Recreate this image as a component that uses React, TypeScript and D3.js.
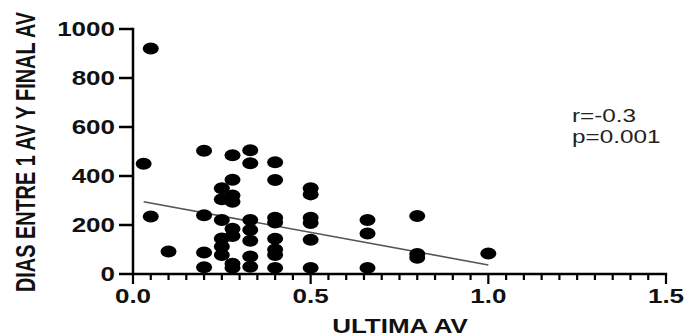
import * as d3 from "d3";
import { useRef, useEffect } from "react";

// values
const ultimaAv = [
  0.03,
  0.05, 0.05,
  0.1,
  0.2, 0.2, 0.2, 0.2,
  0.25, 0.25, 0.25, 0.25, 0.25, 0.25,
  0.28, 0.28, 0.28, 0.28, 0.28, 0.28, 0.28, 0.28,
  0.33, 0.33, 0.33, 0.33, 0.33, 0.33, 0.33,
  0.4, 0.4, 0.4, 0.4, 0.4, 0.4, 0.4, 0.4,
  0.5, 0.5, 0.5, 0.5, 0.5, 0.5,
  0.66, 0.66, 0.66,
  0.8, 0.8, 0.8,
  1.0,
];
const diasEntre = [
  450,
  920, 235,
  92,
  503, 240, 88, 28,
  350, 305, 220, 145, 112, 78,
  485, 385, 320, 295, 185, 155, 42, 25,
  505, 452, 220, 180, 136, 71, 30,
  456, 384, 230, 210, 144, 100, 78, 25,
  350, 325, 230, 208, 140, 25,
  220, 165, 25,
  237, 82, 66,
  84,
];
const fitX = [0.03, 1.0];
const fitY = [295, 37];
const yTicks = [0, 200, 400, 600, 800, 1000];
const xTicks = [0, 0.5, 1.0, 1.5];
const statLines = ["r=-0.3", "p=0.001"];

const FONT = "'Liberation Sans', Arial, Helvetica, sans-serif";

export default function App() {
  const svgRef = useRef<SVGSVGElement>(null);
  const width = 686;
  const height = 336;

  useEffect(() => {
    const svg = d3.select(svgRef.current);
    svg.selectAll("*").remove();

    const x = d3.scaleLinear().domain([0, 1.5]).range([133, 666]);
    const y = d3.scaleLinear().domain([0, 1000]).range([274, 29]);
    const sx = 1.3; // the reference is stretched sideways

    // regression line
    svg.append("line")
      .attr("x1", x(fitX[0]))
      .attr("y1", y(fitY[0]))
      .attr("x2", x(fitX[1]))
      .attr("y2", y(fitY[1]))
      .attr("stroke", "#555")
      .attr("stroke-width", 1.6);

    // points
    svg.append("g")
      .attr("fill", "#000")
      .selectAll("ellipse")
      .data(ultimaAv.map((v, i) => [v, diasEntre[i]]))
      .join("ellipse")
        .attr("cx", (d) => x(d[0]))
        .attr("cy", (d) => y(d[1]))
        .attr("rx", 8)
        .attr("ry", 6);

    // y axis
    const ya = svg.append("g").attr("stroke", "#000");
    ya.append("line")
      .attr("x1", x(0)).attr("x2", x(0))
      .attr("y1", y(1000) - 1.2).attr("y2", y(0) + 1.2)
      .attr("stroke-width", 2.5);
    ya.selectAll("line.tick")
      .data(yTicks)
      .join("line")
        .attr("class", "tick")
        .attr("x1", x(0) - 14).attr("x2", x(0))
        .attr("y1", (d) => y(d)).attr("y2", (d) => y(d))
        .attr("stroke-width", 2.5);
    svg.append("g")
      .selectAll("text")
      .data(yTicks)
      .join("text")
        .attr("transform", (d) => `translate(${x(0) - 18},${y(d)}) scale(${sx},1)`)
        .attr("text-anchor", "end")
        .attr("dy", "0.36em")
        .attr("font-family", FONT)
        .attr("font-weight", "bold")
        .attr("font-size", 20)
        .attr("fill", "#111")
        .text((d) => d3.format("d")(d));

    // x axis
    const xa = svg.append("g").attr("stroke", "#000");
    xa.append("line")
      .attr("x1", x(0) - 1.2).attr("x2", x(1.5) + 1.2)
      .attr("y1", y(0)).attr("y2", y(0))
      .attr("stroke-width", 2.5);
    xa.selectAll("line.tick")
      .data(d3.range(0, 31).map((i) => i * 0.05))
      .join("line")
        .attr("class", "tick")
        .attr("x1", (d) => x(d)).attr("x2", (d) => x(d))
        .attr("y1", y(0))
        .attr("y2", (d, i) => y(0) + (i % 10 === 0 ? 10 : 6))
        .attr("stroke-width", 2.2);
    svg.append("g")
      .selectAll("text")
      .data(xTicks)
      .join("text")
        .attr("transform", (d) => `translate(${x(d)},303) scale(${sx},1)`)
        .attr("text-anchor", "middle")
        .attr("font-family", FONT)
        .attr("font-weight", "bold")
        .attr("font-size", 20)
        .attr("fill", "#111")
        .text((d) => d3.format(".1f")(d));

    // axis titles
    svg.append("text")
      .attr("transform", `translate(400,333) scale(${sx},1)`)
      .attr("text-anchor", "middle")
      .attr("font-family", FONT)
      .attr("font-weight", "bold")
      .attr("font-size", 20)
      .attr("fill", "#111")
      .text("ULTIMA AV");

    svg.append("text")
      .attr("transform", `translate(25,152) scale(1.45,1) rotate(-90)`)
      .attr("text-anchor", "middle")
      .attr("dy", "0.36em")
      .attr("font-family", FONT)
      .attr("font-weight", "bold")
      .attr("font-size", 19)
      .attr("textLength", 280)
      .attr("lengthAdjust", "spacingAndGlyphs")
      .attr("fill", "#111")
      .text("DIAS ENTRE 1 AV Y FINAL AV");

    // statistics
    svg.append("g")
      .selectAll("text")
      .data(statLines)
      .join("text")
        .attr("transform", (d, i) => `translate(572,${122 + i * 21}) scale(1.35,1)`)
        .attr("font-family", FONT)
        .attr("font-size", 18)
        .attr("fill", "#222")
        .text((d) => d);
  }, []);

  return (
    <svg
      ref={svgRef}
      width={width}
      height={height}
      viewBox={`0 0 ${width} ${height}`}
      style={{ position: "absolute", left: 0, top: 0, background: "#fff" }}
    />
  );
}
